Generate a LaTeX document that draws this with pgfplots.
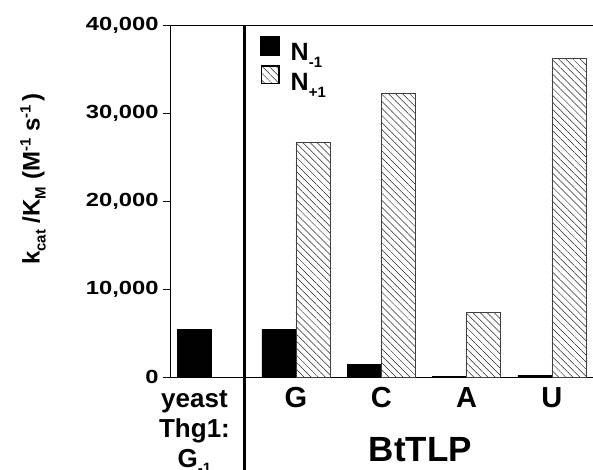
\documentclass[border=0pt]{standalone}
\usepackage{fontspec}
\setmainfont{Liberation Sans}
\usepackage{graphicx}
\usepackage{pgfplots}
\pgfplotsset{compat=1.18}
\usetikzlibrary{patterns.meta}
\newcommand\ys{\fontsize{26}{26}\selectfont\bfseries}
\newcommand\lsub[1]{\raisebox{-6pt}{\fontsize{15}{15}\selectfont #1}}
\newcommand\lsup[1]{\raisebox{9pt}{\fontsize{15}{15}\selectfont #1}}
\newcommand\leg[1]{\fontsize{25}{25}\selectfont\bfseries N\raisebox{-7pt}{\fontsize{15}{15}\selectfont #1}}

\begin{document}
\begin{tikzpicture}
\path[use as bounding box] (0,0) rectangle (593pt,469pt);
\begin{axis}[
  at={(170pt,92pt)}, anchor=south west,
  scale only axis, width=423pt, height=352pt,
  xmin=0.523, xmax=5.482, ymin=0, ymax=40000,
  axis x line*=bottom, axis y line*=left,
  axis line style={line width=1pt, -},
  ybar=0pt, bar width=0.4,
  xtick={0.81,2,3,4,5},
  xticklabels={{\ys\rule{0pt}{20pt}yeast\\\ys Thg1:\\\ys G\lsub{-1}},G,C,A,U},
  xticklabel style={align=center, anchor=north, font=\fontsize{29}{30}\selectfont\bfseries},
  xtick style={draw=none},
  ytick={0,10000,20000,30000,40000},
  yticklabels={0,{10,000},{20,000},{30,000},{40,000}},
  scaled y ticks=false,
  ytick style={line width=1pt, black},
  tick align=outside, major tick length=7pt,
  yticklabel style={font=\fontsize{19}{19}\selectfont\bfseries, xscale=1.25, anchor=east},
  clip=false,
  legend style={at={(rel axis cs:0.213,0.97)}, anchor=north west, draw=none, fill=none,
    inner sep=0pt, row sep=1pt, column sep=9pt},
  legend cell align=left,
]
\addplot[fill=black, draw=black, bar shift=0, forget plot] coordinates {(0.81,5420)};
\addplot[fill=black, draw=black, bar shift=-0.2,
  legend image code/.code={\draw[fill=black, draw=black] (0pt,-2pt) rectangle (19pt,17pt);}]
  coordinates {(2,5420) (3,1440) (4,100) (5,200)};
\addplot[draw=black!75, line width=0.6pt, bar shift=0.2,
  pattern={Lines[angle=-45,distance=5pt,line width=0.5pt]}, pattern color=black!85,
  legend image code/.code={\draw[line width=1.6pt, draw=black, pattern={Lines[angle=-45,distance=5pt,line width=0.5pt]}] (0.8pt,-1.2pt) rectangle (18.2pt,16.2pt);}]
  coordinates {(2,26670) (3,32240) (4,7350) (5,36220)};
\legend{\leg{-1}, \leg{+1}}
\draw[line width=1pt] (rel axis cs:0,1) -- (rel axis cs:1,1);
\draw[line width=3pt] (axis cs:1.394,40000) -- (axis cs:1.394,-12000);
\end{axis}
\node[rotate=90, font=\fontsize{24}{24}\selectfont\bfseries] at (33pt,290pt)
  {k\lsub{cat} /K\lsub{M} (M\lsup{-1} s\lsup{-1}\,)};
\node[anchor=base, font=\fontsize{35}{36}\selectfont\bfseries] at (420.5pt,7.3pt) {BtTLP};
\end{tikzpicture}
\end{document}
